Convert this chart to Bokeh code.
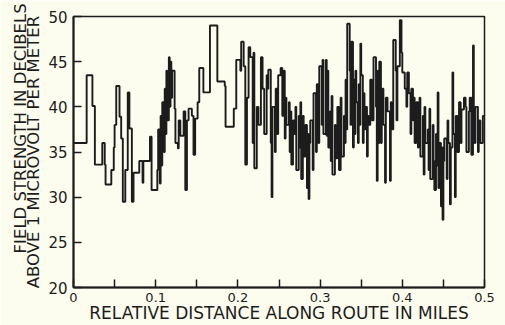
from bokeh.plotting import figure
from bokeh.models import FixedTicker, Range1d
from bokeh.embed import file_html
from bokeh.resources import INLINE

# ---- data (step trace) ----
distance_mi = [
    0.000, 0.016, 0.023, 0.026, 0.035, 0.038, 0.039, 0.046, 0.049, 0.050,
    0.052, 0.056, 0.058, 0.060, 0.063, 0.066, 0.068, 0.071, 0.073, 0.080,
    0.084, 0.085, 0.093, 0.095, 0.102,
    0.103, 0.105, 0.106, 0.107, 0.108, 0.110, 0.111, 0.112, 0.113, 0.114,
    0.116, 0.117, 0.118, 0.119, 0.120, 0.123, 0.124, 0.127, 0.128, 0.130,
    0.134, 0.136, 0.138, 0.140, 0.144, 0.146, 0.148, 0.151, 0.153, 0.158,
    0.166, 0.175, 0.184, 0.185, 0.195, 0.198,
    0.203, 0.204, 0.207, 0.209, 0.211, 0.213, 0.215, 0.218, 0.219, 0.220,
    0.223, 0.225, 0.228, 0.230, 0.232, 0.235, 0.236, 0.237, 0.240, 0.241,
    0.242, 0.245, 0.246, 0.248, 0.249, 0.252, 0.254, 0.256, 0.257, 0.258,
    0.259, 0.262, 0.263, 0.264, 0.265, 0.267, 0.269, 0.270, 0.271, 0.274,
    0.275, 0.276, 0.277, 0.279, 0.280, 0.282, 0.284, 0.285, 0.286, 0.287,
    0.288, 0.291, 0.292, 0.295, 0.296, 0.298, 0.299, 0.302, 0.303, 0.304,
    0.307, 0.308, 0.309, 0.310, 0.312, 0.313, 0.314, 0.315, 0.318, 0.319,
    0.321, 0.323, 0.325, 0.326, 0.329, 0.330, 0.331, 0.332, 0.333, 0.336,
    0.337, 0.338, 0.340, 0.341, 0.342, 0.343, 0.344, 0.346, 0.347, 0.348,
    0.349, 0.350, 0.352, 0.353, 0.354, 0.355, 0.357, 0.358, 0.359, 0.361,
    0.363, 0.365, 0.368, 0.369, 0.370, 0.371, 0.372, 0.374, 0.375, 0.377,
    0.379, 0.380, 0.382, 0.385, 0.386, 0.387, 0.389, 0.392, 0.393, 0.394,
    0.397, 0.399, 0.400,
    0.403, 0.405, 0.406, 0.408, 0.410, 0.411, 0.413, 0.414, 0.415, 0.417,
    0.419, 0.420, 0.421, 0.422, 0.425, 0.426, 0.427, 0.428, 0.431, 0.432,
    0.433, 0.434, 0.437, 0.438, 0.439, 0.441, 0.442, 0.443, 0.444, 0.445,
    0.447, 0.448, 0.449, 0.450, 0.451, 0.454, 0.455, 0.456, 0.458, 0.459,
    0.461, 0.462, 0.464, 0.465, 0.467, 0.469, 0.471, 0.472, 0.475, 0.477,
    0.478, 0.481, 0.482, 0.484, 0.486, 0.487, 0.488, 0.489, 0.492, 0.493,
    0.495, 0.498, 0.500,
]
field_db = [
    36.0, 43.5, 40.1, 33.6, 36.0, 33.6, 31.4, 33.0, 35.5, 38.0,
    42.3, 38.9, 36.5, 29.5, 33.0, 41.6, 37.6, 29.5, 32.7, 34.0,
    31.6, 34.0, 36.7, 30.8, 33.0,
    37.5, 31.5, 39.0, 33.5, 40.5, 35.0, 42.0, 37.0, 44.0, 38.5,
    45.5, 40.0, 45.0, 41.0, 44.0, 39.8, 36.0, 35.4, 38.5, 36.8,
    39.5, 30.8, 38.5, 39.8, 39.0, 34.7, 38.7, 40.5, 44.3, 41.6,
    49.0, 42.8, 42.3, 37.8, 39.8, 45.2,
    44.0, 47.2, 44.5, 33.6, 41.0, 46.6, 45.5, 36.0, 46.0, 33.2,
    40.0, 38.0, 45.5, 42.0, 37.0, 43.5, 42.0, 44.1, 36.0, 30.0,
    40.0, 35.0, 42.0, 37.0, 43.5, 44.3, 39.0, 44.0, 36.5, 41.0,
    38.0, 40.5, 35.0, 39.5, 33.6, 38.5, 37.0, 40.0, 33.0, 39.0,
    35.5, 40.5, 32.0, 39.0, 34.5, 38.0, 31.0, 37.0, 29.8, 36.0,
    38.5, 33.0, 41.5, 35.0, 42.5, 36.0, 44.5, 38.0, 45.2, 37.0,
    45.2, 36.8, 44.0, 35.5, 39.5, 34.0, 41.2, 32.5, 38.0, 34.3,
    40.0, 33.0, 41.0, 34.5, 39.0, 36.0, 43.0, 37.5, 49.2, 44.0,
    38.0, 47.2, 35.5, 43.0, 37.0, 44.0, 40.5, 36.0, 42.5, 38.0,
    47.0, 43.5, 36.0, 41.5, 37.5, 40.0, 34.5, 39.0, 38.0, 43.0,
    38.5, 45.5, 40.0, 31.8, 44.0, 36.0, 45.0, 36.0, 42.0, 38.0,
    31.6, 41.0, 39.5, 31.8, 40.5, 37.5, 47.4, 44.0, 38.5, 44.5,
    49.6, 46.0, 43.8,
    42.0, 40.0, 43.8, 41.5, 37.0, 42.0, 38.5, 41.0, 36.0, 40.5,
    35.5, 38.0, 41.0, 34.5, 39.0, 32.5, 40.0, 36.0, 37.5, 33.0,
    39.8, 32.0, 38.0, 34.0, 30.8, 37.0, 33.5, 41.6, 31.0, 36.0,
    29.0, 35.5, 27.5, 34.0, 36.5, 32.0, 38.5, 36.0, 29.2, 35.5,
    43.8, 37.0, 30.0, 39.0, 35.0, 40.5, 36.0, 39.7, 41.0, 40.0,
    35.0, 39.5, 41.0, 34.7, 46.8, 39.0, 36.0, 40.0, 35.0, 38.5,
    36.0, 39.0, 39.0,
]
x_ticks = [0, 0.1, 0.2, 0.3, 0.4, 0.5]
x_minor_ticks = [0.05, 0.15, 0.25, 0.35, 0.45]
x_tick_labels = {0: "0"}
y_ticks = [20, 25, 30, 35, 40, 45, 50]
y_label_lines = ["FIELD STRENGTH IN DECIBELS", "ABOVE 1 MICROVOLT PER METER"]
x_label = "RELATIVE DISTANCE ALONG ROUTE IN MILES"

BG = "#fcfcef"
INK = "#1c1c1c"
FONT = "DejaVu Sans"
NBSP = "\u00a0"

p = figure(width=505, height=325, x_range=Range1d(0, 0.5), y_range=Range1d(20, 50),
           output_backend="svg", toolbar_location=None,
           min_border_left=73, min_border_right=21, min_border_top=16, min_border_bottom=33,
           background_fill_color=BG, border_fill_color=BG)
p.grid.visible = False
p.outline_line_color = INK
p.outline_line_width = 1.5

p.step(distance_mi, field_db, mode="after", line_width=1.9, line_color=INK)

p.xaxis.ticker = FixedTicker(ticks=x_ticks, minor_ticks=x_minor_ticks)
p.xaxis.major_label_overrides = x_tick_labels
p.yaxis.ticker = FixedTicker(ticks=y_ticks)

for ax in (p.xaxis[0], p.yaxis[0]):
    ax.axis_line_color = INK
    ax.axis_line_width = 2
    ax.major_tick_in = 8
    ax.major_tick_out = 0
    ax.minor_tick_in = 8
    ax.minor_tick_out = 0
    ax.major_tick_line_color = INK
    ax.minor_tick_line_color = INK
    ax.major_tick_line_width = 1.5
    ax.minor_tick_line_width = 1.5
    ax.major_label_text_font = FONT
    ax.major_label_text_color = INK
    ax.axis_label_text_font = FONT
    ax.axis_label_text_font_style = "normal"
    ax.axis_label_text_color = INK

p.yaxis.minor_tick_line_color = None
p.xaxis.major_label_text_font_size = "13px"
p.xaxis.major_label_standoff = 5
p.yaxis.major_label_text_font_size = "15px"
p.yaxis.major_label_standoff = 6

# x-axis title
p.xaxis.axis_label = x_label
p.xaxis.axis_label_text_font_size = "17px"
p.xaxis.axis_label_standoff = -2

# y-axis title: two lines, the first one shifted towards the top
p.yaxis.axis_label = NBSP * 9 + y_label_lines[0] + "\n" + y_label_lines[1]
p.yaxis.axis_label_text_font_size = "16.5px"
p.yaxis.axis_label_text_line_height = 0.72
p.yaxis.axis_label_standoff = 2

open("out.html", "w").write(file_html(p, INLINE))
